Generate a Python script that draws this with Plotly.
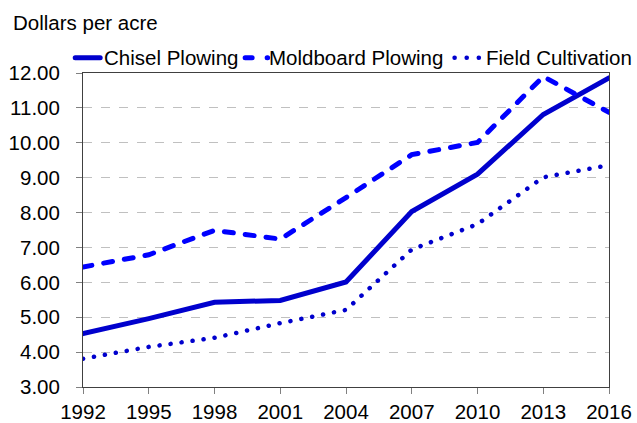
import plotly.graph_objects as go

years = [1992, 1995, 1998, 2001, 2004, 2007, 2010, 2013, 2016]
chisel = [4.53, 4.96, 5.43, 5.48, 6.01, 8.03, 9.10, 10.81, 11.86]
moldboard = [6.44, 6.79, 7.49, 7.24, 8.43, 9.66, 10.01, 11.90, 10.87]
field = [3.81, 4.15, 4.41, 4.83, 5.21, 6.94, 7.67, 9.01, 9.36]
series_names = ["Chisel Plowing", "Moldboard Plowing", "Field Cultivation"]
y_ticks = [3, 4, 5, 6, 7, 8, 9, 10, 11, 12]
y_tick_labels = ["%.2f" % v for v in y_ticks]
y_title = "Dollars per acre"

W, H = 637, 423
ML, MR, MT, MB = 83.3, 27.5, 73.3, 35.7
PW, PH = W - ML - MR, H - MT - MB

def px_x(X):
    return (X - ML) / PW

def px_y(Y):
    return (MT + PH - Y) / PH

styles = [
    dict(color="#0000CD", width=5),
    dict(color="#0000FF", width=5, dash="9px,12px"),
    dict(color="#0000CD", width=4.5, dash="0.1px,11px"),
]
legend_lines = [  # (x0, x1, dash) pixel positions of legend samples
    (75.5, 100.5, None),
    (245.5, 268.0, "7px,15px"),
    (455.0, 480.0, "0.1px,12px"),
]
legend_text_x = [102.5, 267.5, 484.5]

fig = go.Figure()
for vals, name, st in zip([chisel, moldboard, field], series_names, styles):
    fig.add_trace(go.Scatter(x=years, y=vals, mode="lines", name=name,
                             line=st, showlegend=False))

font = dict(family="Liberation Sans, Arial, sans-serif", size=20.5, color="#000000")

fig.update_layout(
    width=W, height=H,
    margin=dict(l=ML, r=MR, t=MT, b=MB, autoexpand=False),
    paper_bgcolor="white", plot_bgcolor="white",
    font=font, showlegend=False,
)

for (x0, x1, dash), st, name, tx in zip(legend_lines, styles, series_names, legend_text_x):
    line = dict(color=st["color"], width=st["width"])
    if dash:
        line["dash"] = dash
    fig.add_shape(type="line", xref="paper", yref="paper",
                  x0=px_x(x0), x1=px_x(x1), y0=px_y(58), y1=px_y(58), line=line)
    fig.add_annotation(text=name, xref="paper", yref="paper",
                       x=px_x(tx), y=px_y(57.5), xanchor="left", yanchor="middle",
                       showarrow=False, font=font)

fig.add_annotation(text=y_title, xref="paper", yref="paper",
                   x=px_x(11.5), y=px_y(22.5), xanchor="left", yanchor="middle",
                   showarrow=False, font=font)

fig.update_xaxes(range=[1992, 2016], tickvals=years, ticktext=[str(y) for y in years],
                 showline=True, linecolor="#404040", linewidth=1, mirror=True,
                 ticks="outside", ticklen=6, tickcolor="#808080",
                 ticklabelstandoff=0, automargin=False,
                 showgrid=False, zeroline=False, tickfont=font)
fig.update_yaxes(range=[3, 12], tickvals=y_ticks, ticktext=y_tick_labels,
                 showline=True, linecolor="#404040", linewidth=1, mirror=True,
                 ticks="outside", ticklen=6, tickcolor="#808080",
                 ticklabelstandoff=12, automargin=False,
                 showgrid=True, gridcolor="#C0C0C0", griddash="dash", gridwidth=1,
                 zeroline=False, tickfont=font)

post = """
document.body.style.margin='0';
var s=document.createElement('style');
s.innerHTML='.js-line, .shapelayer path {stroke-linecap: round;}';
document.head.appendChild(s);
"""
fig.write_html("out.html", config={"displayModeBar": False}, post_script=post)
